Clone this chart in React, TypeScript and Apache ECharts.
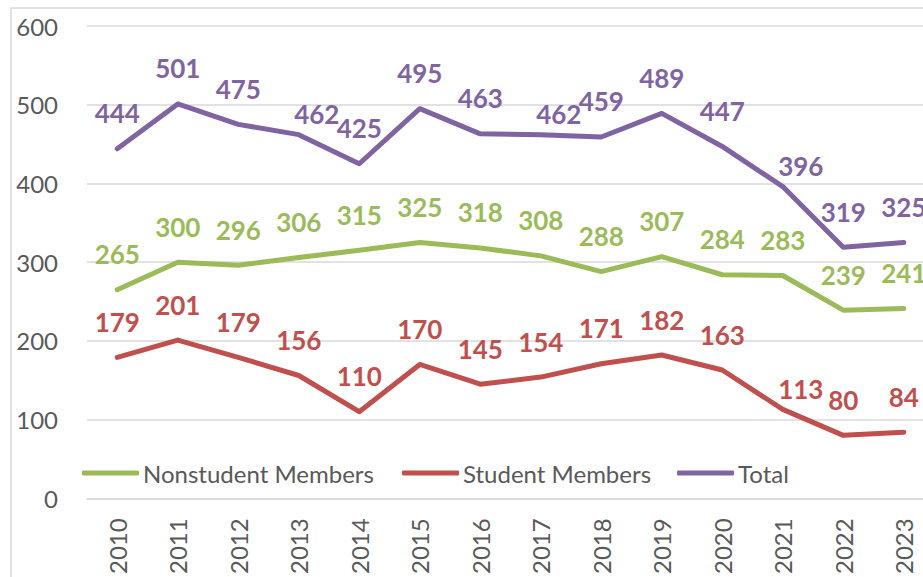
import React, { useEffect, useRef } from "react";
import * as echarts from "echarts";

const years = ["2010", "2011", "2012", "2013", "2014", "2015", "2016", "2017", "2018", "2019", "2020", "2021", "2022", "2023"];
const nonstudent = [265, 300, 296, 306, 315, 325, 318, 308, 288, 307, 284, 283, 239, 241];
const student = [179, 201, 179, 156, 110, 170, 145, 154, 171, 182, 163, 113, 80, 84];
const total = [444, 501, 475, 462, 425, 495, 463, 462, 459, 489, 447, 396, 319, 325];
const seriesNames = ["Nonstudent Members", "Student Members", "Total"];
const colors = ["#9BBB59", "#C0504D", "#8064A2"];
// indices of labels that were nudged in the original
const shiftedNonstudent: number[] = [];
const shiftedStudent = [11];
const shiftedTotal = [3, 7, 11];

const FONT = "Lato, 'Open Sans', sans-serif";

export default function App() {
  const ref = useRef<HTMLDivElement>(null);
  useEffect(() => {
    if (!ref.current) return;
    const chart = echarts.init(ref.current, undefined, { renderer: "svg" });
    const mkSeries = (name: string, color: string, data: number[], shifted: number[], z: number) => ({
      name,
      type: "line",
      data,
      z,
      symbol: "circle",
      symbolSize: 1,
      showSymbol: true,
      lineStyle: { color, width: 5, cap: "round", join: "round" },
      itemStyle: { color },
      label: {
        show: true,
        position: "top",
        distance: 22,
        color,
        fontFamily: FONT,
        fontWeight: "bold",
        fontSize: 26,
      },
      labelLayout: (params: any) =>
        shifted.includes(params.dataIndex)
          ? { dx: 18, dy: 15, hideOverlap: false }
          : { hideOverlap: false },
    });
    const legendBase = {
      top: 461,
      padding: 0,
      itemWidth: 57,
      itemHeight: 5,
      itemGap: 0,
      icon: "roundRect",
      textStyle: { color: "#595959", fontFamily: FONT, fontSize: 24, padding: [0, 0, 0, -1] },
    };
    chart.setOption({
      animation: false,
      backgroundColor: "#ffffff",
      textStyle: { fontFamily: FONT },
      grid: { left: 87, right: 16, top: 26, bottom: 76, containLabel: false },
      legend: [
        { ...legendBase, left: 82, data: [seriesNames[0]] },
        { ...legendBase, left: 402, data: [seriesNames[1]] },
        { ...legendBase, left: 677, data: [seriesNames[2]] },
      ],
      xAxis: {
        type: "category",
        data: years,
        boundaryGap: true,
        axisLine: { show: true, lineStyle: { color: "#D9D9D9", width: 1.5 } },
        axisTick: { show: false },
        axisLabel: {
          rotate: 90,
          margin: 20,
          color: "#595959",
          fontFamily: FONT,
          fontSize: 24,
        },
      },
      yAxis: {
        type: "value",
        min: 0,
        max: 600,
        interval: 100,
        axisLine: { show: false },
        axisTick: { show: false },
        splitLine: { lineStyle: { color: "#D9D9D9", width: 1.5 } },
        axisLabel: {
          margin: 29,
          color: "#595959",
          fontFamily: FONT,
          fontSize: 24,
        },
      },
      graphic: [
        {
          type: "rect",
          shape: { x: 11, y: 8, width: 1200, height: 1000 },
          style: { fill: "none", stroke: "#D9D9D9", lineWidth: 1.5 },
          silent: true,
          z: -10,
        },
      ],
      series: [
        mkSeries(seriesNames[0], colors[0], nonstudent, shiftedNonstudent, 3),
        mkSeries(seriesNames[1], colors[1], student, shiftedStudent, 4),
        mkSeries(seriesNames[2], colors[2], total, shiftedTotal, 5),
      ],
    });
    return () => chart.dispose();
  }, []);
  return (
    <div
      style={{
        position: "fixed",
        left: 0,
        top: 0,
        width: 923,
        height: 577,
        overflow: "hidden",
        background: "#fff",
      }}
    >
      <div ref={ref} style={{ width: 950, height: 577 }} />
    </div>
  );
}
